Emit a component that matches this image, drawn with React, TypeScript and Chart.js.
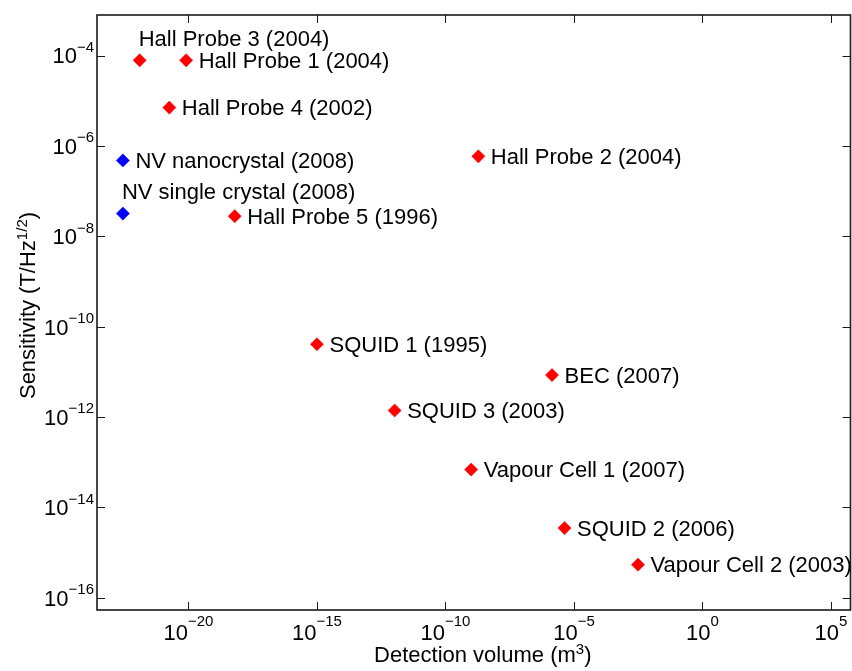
import React, { useEffect, useRef } from "react";
import { Chart, registerables } from "chart.js";

Chart.register(...registerables);

// ---------- data ----------
const redNames = [
  "Hall Probe 3 (2004)",
  "Hall Probe 1 (2004)",
  "Hall Probe 4 (2002)",
  "Hall Probe 5 (1996)",
  "Hall Probe 2 (2004)",
  "SQUID 1 (1995)",
  "BEC (2007)",
  "SQUID 3 (2003)",
  "Vapour Cell 1 (2007)",
  "SQUID 2 (2006)",
  "Vapour Cell 2 (2003)",
];
const redVolumes = [1.26e-22, 8.1e-21, 1.8e-21, 6.3e-19, 1.9e-9, 1e-15, 1.4e-6, 1.05e-12, 1e-9, 4.3e-6, 3.1e-3];
const redSensitivities = [7.9e-5, 7.9e-5, 7.1e-6, 2.8e-8, 5.9e-7, 4.1e-11, 8.5e-12, 1.4e-12, 6.9e-14, 3.5e-15, 5.4e-16];

const blueNames = ["NV nanocrystal (2008)", "NV single crystal (2008)"];
const blueVolumes = [2.8e-23, 2.8e-23];
const blueSensitivities = [4.8e-7, 3.2e-8];

const xTickExponents = [-20, -15, -10, -5, 0, 5];
const yTickExponents = [-16, -14, -12, -10, -8, -6, -4];
const xRangeExponents = [-23.56, 5.76];
const yRangeExponents = [-16.27, -3.1];

const xTitle = ["Detection volume (m", "3", ")"];
const yTitle = ["Sensitivity (T/Hz", "1/2", ")"];

// labels drawn above their marker instead of to the right
const labelsAbove = ["Hall Probe 3 (2004)", "NV single crystal (2008)"];

// ---------- styling ----------
const FONT = "'Liberation Sans', Arial, Helvetica, sans-serif";
const BASE = `22px ${FONT}`;
const SUP = `15px ${FONT}`;
const INK = "#1a1a1a";

function drawSuperText(ctx: CanvasRenderingContext2D, parts: string[], x: number, y: number, raise: number) {
  ctx.textAlign = "left";
  ctx.textBaseline = "alphabetic";
  ctx.font = BASE;
  ctx.fillText(parts[0], x, y);
  let cx = x + ctx.measureText(parts[0]).width;
  ctx.font = SUP;
  ctx.fillText(parts[1], cx, y - raise);
  cx += ctx.measureText(parts[1]).width;
  if (parts[2]) {
    ctx.font = BASE;
    ctx.fillText(parts[2], cx, y);
  }
}

function superWidth(ctx: CanvasRenderingContext2D, parts: string[]) {
  ctx.font = BASE;
  let w = ctx.measureText(parts[0]).width;
  if (parts[2]) w += ctx.measureText(parts[2]).width;
  ctx.font = SUP;
  w += ctx.measureText(parts[1]).width;
  return w;
}

function expLabel(e: number) {
  return e < 0 ? "\u2212" + String(-e) : String(e);
}

const annotationPlugin = {
  id: "annotations",
  afterDraw(chart: any) {
    const ctx: CanvasRenderingContext2D = chart.ctx;
    const a = chart.chartArea;
    const xs = chart.scales.x;
    const ys = chart.scales.y;
    ctx.save();

    // inward tick marks on all four sides
    ctx.strokeStyle = INK;
    ctx.lineWidth = 1;
    ctx.beginPath();
    for (const t of xs.ticks) {
      const px = Math.round(xs.getPixelForValue(t.value)) + 0.5;
      ctx.moveTo(px, a.bottom);
      ctx.lineTo(px, a.bottom - 8);
      ctx.moveTo(px, a.top);
      ctx.lineTo(px, a.top + 8);
    }
    for (const t of ys.ticks) {
      const py = Math.round(ys.getPixelForValue(t.value)) + 0.5;
      ctx.moveTo(a.left, py);
      ctx.lineTo(a.left + 8, py);
      ctx.moveTo(a.right, py);
      ctx.lineTo(a.right - 8, py);
    }
    ctx.stroke();

    // axes box
    ctx.lineWidth = 1.6;
    ctx.strokeRect(a.left, a.top, a.right - a.left, a.bottom - a.top);

    ctx.fillStyle = "#000";

    // x tick labels
    for (const t of xs.ticks) {
      const e = Math.round(Math.log10(t.value));
      const parts = ["10", expLabel(e)];
      const w = superWidth(ctx, parts);
      const px = xs.getPixelForValue(t.value);
      drawSuperText(ctx, parts, px - w / 2, a.bottom + 30, 14);
    }
    // y tick labels
    for (const t of ys.ticks) {
      const e = Math.round(Math.log10(t.value));
      const parts = ["10", expLabel(e)];
      const w = superWidth(ctx, parts);
      const py = ys.getPixelForValue(t.value);
      drawSuperText(ctx, parts, a.left - 3 - w, py + 7.8, 11.5);
    }

    // x title
    {
      const w = superWidth(ctx, xTitle);
      const cx = (a.left + a.right) / 2 + 9;
      drawSuperText(ctx, xTitle, cx - w / 2, a.bottom + 52, 8);
    }
    // y title
    {
      const w = superWidth(ctx, yTitle);
      const cy = (a.top + a.bottom) / 2 - 7;
      ctx.save();
      ctx.translate(a.left - 62.5, cy);
      ctx.rotate(-Math.PI / 2);
      drawSuperText(ctx, yTitle, -w / 2, 0, 8);
      ctx.restore();
    }

    // point labels
    ctx.font = BASE;
    ctx.textBaseline = "alphabetic";
    ctx.textAlign = "left";
    chart.data.datasets.forEach((ds: any, di: number) => {
      const meta = chart.getDatasetMeta(di);
      meta.data.forEach((pt: any, i: number) => {
        const name = ds.names[i];
        if (labelsAbove.includes(name)) {
          ctx.fillText(name, pt.x - 1, pt.y - 14.3);
        } else {
          ctx.fillText(name, pt.x + 12.5, pt.y + 7.5);
        }
      });
    });

    ctx.restore();
  },
};

function toPoints(xs: number[], ys: number[]) {
  return xs.map((x, i) => ({ x, y: ys[i] }));
}

export default function App() {
  const canvasRef = useRef<HTMLCanvasElement | null>(null);

  useEffect(() => {
    document.body.style.margin = "0";
    const canvas = canvasRef.current;
    if (!canvas) return;
    const markerRadius = 6.6;
    const chart = new Chart(canvas, {
      type: "scatter",
      data: {
        datasets: [
          {
            label: "Conventional",
            data: toPoints(redVolumes, redSensitivities),
            names: redNames,
            pointStyle: "rectRot",
            pointRadius: markerRadius,
            pointHoverRadius: markerRadius,
            backgroundColor: "#ff0000",
            borderColor: "#ff0000",
            borderWidth: 0.5,
          } as any,
          {
            label: "NV",
            data: toPoints(blueVolumes, blueSensitivities),
            names: blueNames,
            pointStyle: "rectRot",
            pointRadius: markerRadius,
            pointHoverRadius: markerRadius,
            backgroundColor: "#0000ff",
            borderColor: "#0000ff",
            borderWidth: 0.5,
          } as any,
        ],
      },
      options: {
        animation: false,
        responsive: false,
        devicePixelRatio: 1,
        events: [],
        layout: { autoPadding: false, padding: { top: 15, right: 1.5, left: 0, bottom: 0 } },
        plugins: {
          legend: { display: false },
          tooltip: { enabled: false },
        },
        scales: {
          x: {
            type: "logarithmic",
            bounds: "data",
            min: Math.pow(10, xRangeExponents[0]),
            max: Math.pow(10, xRangeExponents[1]),
            grid: { display: false },
            border: { display: false },
            ticks: { display: false },
            afterBuildTicks: (scale: any) => {
              scale.ticks = xTickExponents.map((e) => ({ value: Math.pow(10, e) }));
            },
            afterFit: (scale: any) => {
              scale.height = 61;
            },
          },
          y: {
            type: "logarithmic",
            bounds: "data",
            min: Math.pow(10, yRangeExponents[0]),
            max: Math.pow(10, yRangeExponents[1]),
            grid: { display: false },
            border: { display: false },
            ticks: { display: false },
            afterBuildTicks: (scale: any) => {
              scale.ticks = yTickExponents.map((e) => ({ value: Math.pow(10, e) }));
            },
            afterFit: (scale: any) => {
              scale.width = 97;
            },
          },
        },
      } as any,
      plugins: [annotationPlugin],
    });
    return () => chart.destroy();
  }, []);

  return (
    <div style={{ width: 852, height: 671, background: "#fff" }}>
      <canvas ref={canvasRef} width={852} height={671} style={{ width: 852, height: 671, display: "block" }} />
    </div>
  );
}
